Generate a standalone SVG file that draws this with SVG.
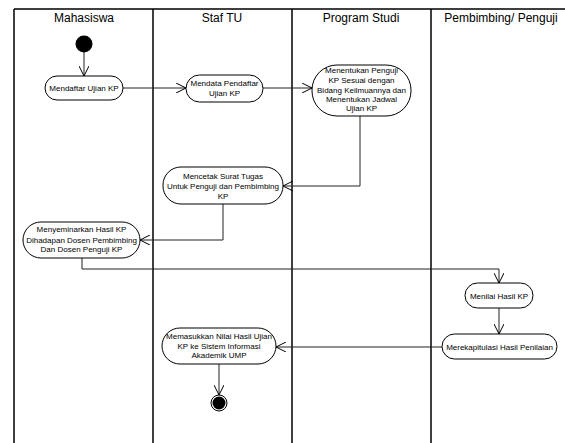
<svg xmlns="http://www.w3.org/2000/svg" width="565" height="443" viewBox="0 0 565 443">
<style>
.lane{stroke:#000;stroke-width:1.5;fill:none}
.hd{font-family:"Liberation Sans",Arial,sans-serif;font-size:12px;fill:#000;text-anchor:middle}
.nd rect{fill:#fff;stroke:#000;stroke-width:1}
.nd text{font-family:"Liberation Sans",Arial,sans-serif;font-size:8px;fill:#000;text-anchor:middle}
.cn{stroke:#222;stroke-width:1;fill:none;marker-end:url(#arr)}
</style>
<defs>
<marker id="arr" viewBox="0 0 10 10" refX="10" refY="5" markerWidth="10" markerHeight="10" markerUnits="userSpaceOnUse" orient="auto">
<path d="M0,0 L10,5 L0,10" fill="none" stroke="#000" stroke-width="1"/>
</marker>
</defs>
<rect width="565" height="443" fill="#fff"/>
<g id="lanes">
<path class="lane" d="M14,9 H565 M14,9 V443 M153,9 V443 M292,9 V443 M431,9 V443"/>
<text class="hd" x="84" y="22">Mahasiswa</text>
<text class="hd" x="222" y="22">Staf TU</text>
<text class="hd" x="361" y="22">Program Studi</text>
<text class="hd" x="501" y="22">Pembimbing/ Penguji</text>
</g>
<g id="connectors">
<path class="cn" d="M84,52 V76"/>
<path class="cn" d="M123,88 H186"/>
<path class="cn" d="M263,88 H312"/>
<path class="cn" d="M360,116 V186 H283"/>
<path class="cn" d="M223,204 V240 H140"/>
<path class="cn" d="M82,258 V269 H499 V283"/>
<path class="cn" d="M499,308 V334"/>
<path class="cn" d="M442,347 H276"/>
<path class="cn" d="M219,364 V395"/>
</g>
<g id="start"><circle cx="84" cy="44" r="8.5" fill="#000"/></g>
<g id="n1" class="nd"><rect x="45" y="76" width="78" height="24" rx="12"/><text x="84" y="91">Mendaftar Ujian KP</text></g>
<g id="n2" class="nd"><rect x="186" y="75" width="77" height="27" rx="13.5"/><text x="224.5" y="86">Mendata Pendaftar</text><text x="224.5" y="96">Ujian KP</text></g>
<g id="n3" class="nd"><rect x="312" y="65" width="99" height="51" rx="25"/><text x="361.5" y="73">Menentukan Penguji</text><text x="361.5" y="83">KP Sesuai dengan</text><text x="361.5" y="92.5">Bidang Keilmuannya dan</text><text x="361.5" y="102">Menentukan Jadwal</text><text x="361.5" y="111">Ujian KP</text></g>
<g id="n4" class="nd"><rect x="163" y="167" width="120" height="37" rx="18"/><text x="223" y="179">Mencetak Surat Tugas</text><text x="223" y="189">Untuk Penguji dan Pembimbing</text><text x="223" y="199">KP</text></g>
<g id="n5" class="nd"><rect x="23" y="222" width="117" height="36" rx="18"/><text x="81.5" y="232">Menyeminarkan Hasil KP</text><text x="81.5" y="242.5">Dihadapan Dosen Pembimbing</text><text x="81.5" y="252">Dan Dosen Penguji KP</text></g>
<g id="n6" class="nd"><rect x="465" y="283" width="68" height="25" rx="12.5"/><text x="499" y="298.5">Menilai Hasil KP</text></g>
<g id="n7" class="nd"><rect x="442" y="334" width="115" height="25" rx="12.5"/><text x="499.5" y="349.5">Merekapitulasi Hasil Penilaian</text></g>
<g id="n8" class="nd"><rect x="162" y="328" width="114" height="36" rx="18"/><text x="219" y="338.5">Memasukkan Nilai Hasil Ujian</text><text x="219" y="348.5">KP ke Sistem Informasi</text><text x="219" y="358">Akademik UMP</text></g>
<g id="end"><circle cx="219" cy="403" r="8" fill="#fff" stroke="#000" stroke-width="1"/><circle cx="219" cy="403" r="6.5" fill="#000"/></g>
</svg>
